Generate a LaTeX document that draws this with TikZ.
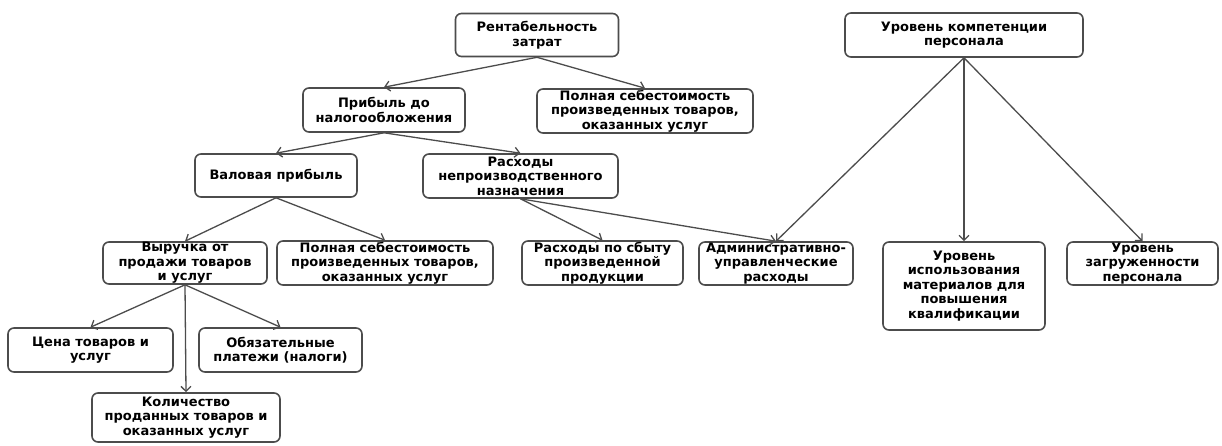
\documentclass[tikz,border=0pt]{standalone}
\usepackage{fontspec}
\setmainfont{DejaVu Sans}
\usetikzlibrary{arrows.meta}

\tikzset{
  box/.style={draw=black!70, line width=1.6pt, rounded corners=6pt, fill=white,
    align=center, inner sep=0pt, font=\bfseries\fontsize{13}{14.5}\selectfont},
  link/.style={draw=black!70, line width=1.3pt, -{Straight Barb[length=5pt,width=10pt]}}
}

\begin{document}
\begin{tikzpicture}[x=1pt,y=-1pt]
			\useasboundingbox (0,0) rectangle (1222,445);
			\node[box, minimum width=163, minimum height=43] (v1)  at (537  ,   35)   {Рентабельность\\затрат};
			\node[box, minimum width=162, minimum height=44] (v2)  at (384  ,  110)   {Прибыль до\\налогообложения};
			\node[box, minimum width=216, minimum height=44] (v3)  at (645  ,  111)   {Полная себестоимость\\произведенных товаров,\\оказанных услуг};
			\node[box, minimum width=162, minimum height=43] (v4)  at (276  ,  175.5) {Валовая прибыль};
			\node[box, minimum width=195, minimum height=44] (v5)  at (520.5,  176)   {Расходы\\непроизводственного\\назначения};
			\node[box, minimum width=164, minimum height=42] (v6)  at (185  ,  263)   {Выручка от\\продажи товаров\\и услуг};
			\node[box, minimum width=216, minimum height=44] (v7)  at (385  ,  263)   {Полная себестоимость\\произведенных товаров,\\оказанных услуг};
			\node[box, minimum width=161, minimum height=44] (v8)  at (602.5,  263)   {Расходы по сбыту\\произведенной\\продукции};
			\node[box, minimum width=154, minimum height=43] (v9)  at (776  ,  263.5) {Административно-\\управленческие\\расходы};
			\node[box, minimum width=165, minimum height=44] (v10) at (90.5 ,  350)   {Цена товаров и\\услуг};
			\node[box, minimum width=163, minimum height=44] (v11) at (280.5,  350)   {Обязательные\\платежи (налоги)};
			\node[box, minimum width=188, minimum height=49] (v12) at (186  ,  417.5) {Количество\\проданных товаров и\\оказанных услуг};
			\node[box, minimum width=238, minimum height=44] (v13) at (964  ,   35)   {Уровень компетенции\\персонала};
			\node[box, minimum width=162, minimum height=88] (v14) at (964  ,  286)   {Уровень\\использования\\материалов для\\повышения\\квалификации};
			\node[box, minimum width=151, minimum height=43] (v15) at (1142.5, 263.5) {Уровень\\загруженности\\персонала};

			\def\tree {v1/v2, v1/v3, v2/v4, v2/v5, v4/v6, v4/v7, v5/v8, v5/v9, v6/v10, v6/v11, v6/v12, v13/v9, v13/v14, v13/v15}  % parent to child
			\foreach \u\v in \tree
			{	\draw[link] (\u.south) -- (\v.north);
			}
		\end{tikzpicture}
\end{document}
